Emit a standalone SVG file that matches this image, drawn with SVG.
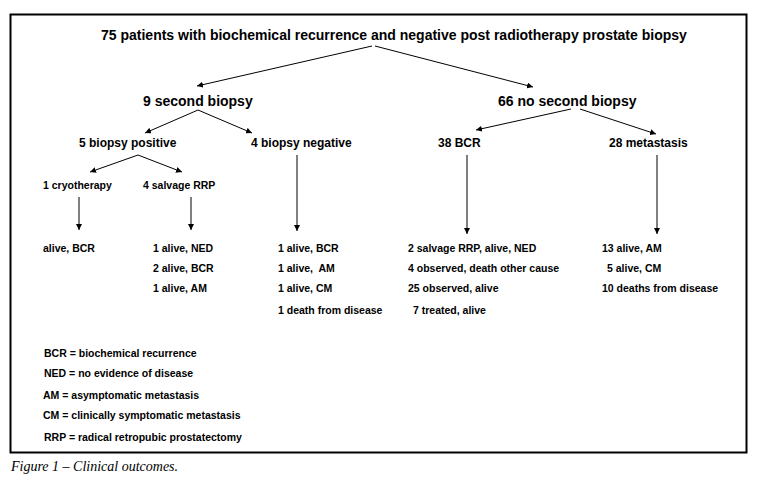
<svg xmlns="http://www.w3.org/2000/svg" width="766" height="484" viewBox="0 0 766 484">
<defs>
<marker id="ah" viewBox="0 0 10 10" refX="10" refY="5" markerWidth="6" markerHeight="6" orient="auto" markerUnits="userSpaceOnUse">
<path d="M0,0 L10,5 L0,10 z" fill="#000"/>
</marker>
<style>
text{font-family:"Liberation Sans",Arial,sans-serif;font-weight:bold;fill:#000}
.t1{font-size:14px}
.t2{font-size:12px}
.t3{font-size:10.5px}
.cap{font-family:"Liberation Serif","Times New Roman",serif;font-weight:normal;font-style:italic;font-size:14px}
.c{stroke:#000;stroke-width:1;fill:none;marker-end:url(#ah)}
</style>
</defs>
<rect width="766" height="484" fill="#fff"/>
<rect x="10.5" y="14.5" width="736" height="438" fill="none" stroke="#000" stroke-width="2"/>
<g id="connectors">
<line class="c" x1="372" y1="46" x2="197" y2="86"/>
<line class="c" x1="375" y1="46" x2="533" y2="87"/>
<line class="c" x1="198" y1="110" x2="145" y2="133"/>
<line class="c" x1="198" y1="110" x2="252" y2="133"/>
<line class="c" x1="571" y1="109" x2="476" y2="130"/>
<line class="c" x1="580" y1="109" x2="656" y2="134"/>
<line class="c" x1="138" y1="155" x2="90" y2="172"/>
<line class="c" x1="138" y1="155" x2="182" y2="172"/>
<line class="c" x1="79" y1="197" x2="79" y2="230"/>
<line class="c" x1="191" y1="197" x2="191" y2="230"/>
<line class="c" x1="297" y1="155" x2="297" y2="231"/>
<line class="c" x1="467" y1="155" x2="467" y2="234"/>
<line class="c" x1="657" y1="155" x2="657" y2="234"/>
</g>
<g id="root"><text class="t1" x="101" y="40">75 patients with biochemical recurrence and negative post radiotherapy prostate biopsy</text></g>
<g id="second-biopsy"><text class="t1" x="143" y="105.5">9 second biopsy</text></g>
<g id="no-second-biopsy"><text class="t1" x="498" y="105.5">66 no second biopsy</text></g>
<g id="biopsy-positive"><text class="t2" x="79" y="147">5 biopsy positive</text></g>
<g id="biopsy-negative"><text class="t2" x="251" y="147">4 biopsy negative</text></g>
<g id="bcr"><text class="t2" x="438" y="147">38 BCR</text></g>
<g id="metastasis"><text class="t2" x="609" y="147">28 metastasis</text></g>
<g id="cryotherapy"><text class="t3" x="43" y="189">1 cryotherapy</text></g>
<g id="salvage-rrp"><text class="t3" x="143" y="189">4 salvage RRP</text></g>
<g id="out-cryo"><text class="t3" x="43" y="252">alive, BCR</text></g>
<g id="out-rrp">
<text class="t3" x="153" y="252">1 alive, NED</text>
<text class="t3" x="153" y="272">2 alive, BCR</text>
<text class="t3" x="153" y="292">1 alive, AM</text>
</g>
<g id="out-negative">
<text class="t3" x="278" y="252">1 alive, BCR</text>
<text class="t3" x="278" y="272" xml:space="preserve">1 alive,  AM</text>
<text class="t3" x="278" y="292">1 alive, CM</text>
<text class="t3" x="278" y="314">1 death from disease</text>
</g>
<g id="out-bcr">
<text class="t3" x="408" y="252">2 salvage RRP, alive, NED</text>
<text class="t3" x="408" y="272">4 observed, death other cause</text>
<text class="t3" x="408" y="292">25 observed, alive</text>
<text class="t3" x="413" y="314">7 treated, alive</text>
</g>
<g id="out-metastasis">
<text class="t3" x="602" y="252">13 alive, AM</text>
<text class="t3" x="607" y="272">5 alive, CM</text>
<text class="t3" x="602" y="292">10 deaths from disease</text>
</g>
<g id="legend">
<text class="t3" x="44" y="357">BCR = biochemical recurrence</text>
<text class="t3" x="44" y="377">NED = no evidence of disease</text>
<text class="t3" x="43" y="399">AM = asymptomatic metastasis</text>
<text class="t3" x="43" y="419">CM = clinically symptomatic metastasis</text>
<text class="t3" x="44" y="441">RRP = radical retropubic prostatectomy</text>
</g>
<text class="cap" x="11" y="470.5">Figure 1 – Clinical outcomes.</text>
</svg>
